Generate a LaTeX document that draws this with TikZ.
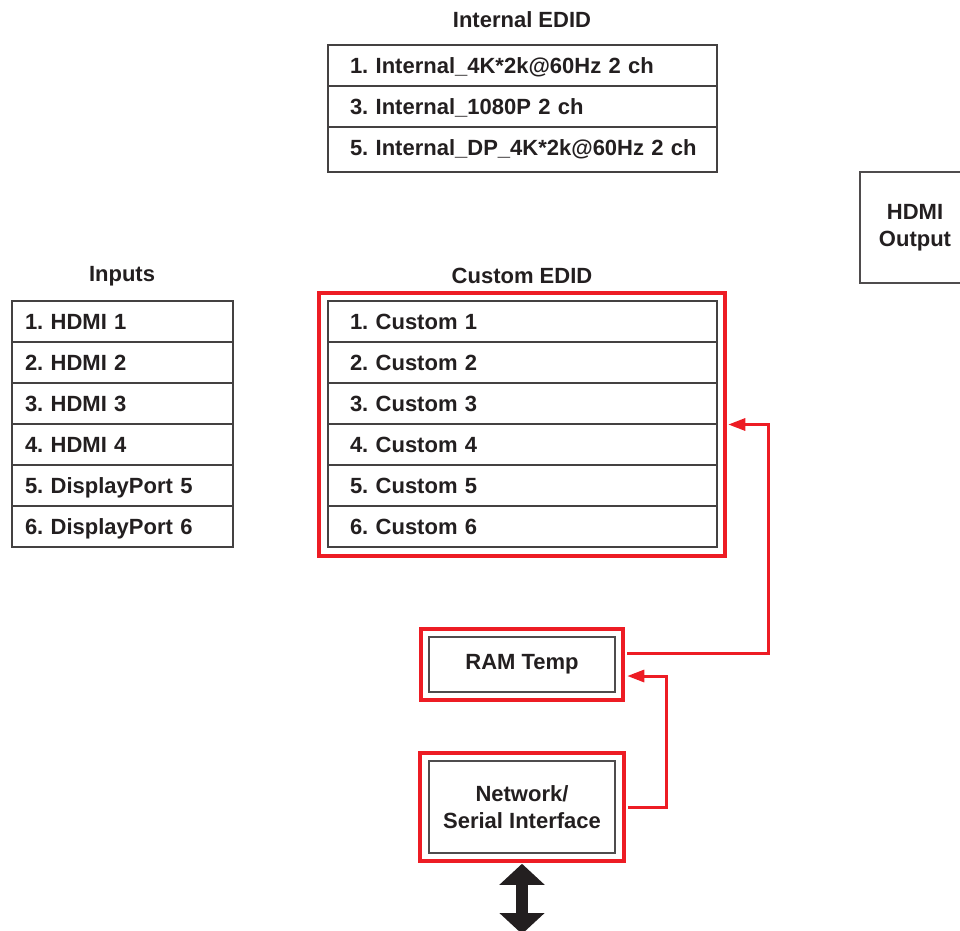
\documentclass[tikz,border=0pt]{standalone}
\usepackage{fontspec}
\setmainfont{Liberation Sans}
\frenchspacing
\usetikzlibrary{arrows.meta}
\definecolor{ink}{HTML}{231F20}
\definecolor{alertred}{HTML}{ED1C24}
\tikzset{
  lbl/.style={font=\bfseries\fontsize{22}{27}\selectfont, text=ink},
  row/.style={draw=ink!85, line width=1.1pt, minimum height=41pt, inner ysep=0pt,
    text height=15.5pt, text depth=0pt, align=left, lbl},
  widerow/.style={row, text width=345pt, inner xsep=22pt},
  narrowrow/.style={row, text width=195pt, inner xsep=13pt},
  redframe/.style={draw=alertred, line width=4.5pt, inner sep=0pt},
  plainbox/.style={draw=ink!80, line width=1.1pt, lbl, align=center, inner sep=0pt},
  redlink/.style={draw=alertred, line width=3pt, -{Triangle[length=17pt,width=12pt]}},
  title/.style={lbl}
}
\begin{document}
\begin{tikzpicture}[x=1pt,y=-1pt]
\useasboundingbox (0,0) rectangle (960,930);

% titles
\node[title] (ttlint) at (522,20) {Internal EDID};
\node[title] (ttlin) at (122,276) {Inputs};
\node[title] (ttlcus) at (522,276) {Custom EDID};

% internal EDID table
\node[widerow] (int1) at (522.5,65.5) {\mbox{1. Internal\_4K*2k@60Hz 2 ch}};
\node[widerow] (int3) at (522.5,106.5) {\mbox{3. Internal\_1080P 2 ch}};
\node[widerow, minimum height=45pt, text depth=3pt] (int5) at (522.5,149.5) {\mbox{5. Internal\_DP\_4K*2k@60Hz 2 ch}};

% output box
\node[plainbox, minimum width=110pt, minimum height=111pt] (hdmiout) at (915,227.5) {HDMI\\Output};

% inputs table
\foreach \i/\t in {1/1. HDMI 1,2/2. HDMI 2,3/3. HDMI 3,4/4. HDMI 4,5/5. DisplayPort 5,6/6. DisplayPort 6}{
  \node[narrowrow] (in\i) at (122.5,{321.5+41*(\i-1)}) {\t};
}

% custom EDID table
\node[redframe, minimum width=406pt, minimum height=263pt] (cusframe) at (522,424.5) {};
\foreach \i in {1,...,6}{
  \node[widerow] (cus\i) at (522.5,{321.5+41*(\i-1)}) {\i. Custom \i};
}

% RAM temp
\node[redframe, minimum width=202pt, minimum height=71pt] (ramframe) at (522,664.5) {};
\node[plainbox, minimum width=186pt, minimum height=55pt] (ram) at (522,664.5) {RAM Temp};

% network / serial interface
\node[redframe, minimum width=204pt, minimum height=108pt] (netframe) at (522,807) {};
\node[plainbox, minimum width=186pt, minimum height=92pt] (net) at (522,807) {Network/\\Serial Interface};

% links
\draw[redlink] ([xshift=2pt,yshift=11pt]ramframe.east) -- ++(141,0) |- ([xshift=1pt]cusframe.east);
\draw[redlink] ([xshift=2pt]netframe.east) -- ++(38,0) |- ([xshift=2pt,yshift=-11.5pt]ramframe.east);

% external bidirectional link
\coordinate (ext) at (522,934);
\draw[draw=ink, line width=12pt, {Triangle[length=21pt,width=44pt]}-{Triangle[length=21pt,width=44pt]}]
  ([yshift=-0.5pt]netframe.south) -- (ext);
\end{tikzpicture}
\end{document}
